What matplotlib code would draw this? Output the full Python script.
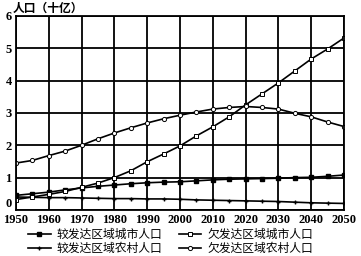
import matplotlib
matplotlib.use("Agg")
from matplotlib import pyplot as plt
import numpy as np

years = np.arange(1950, 2051, 5)

# population, billions
more_dev_urban = [0.45, 0.50, 0.55, 0.62, 0.68, 0.73, 0.77, 0.81, 0.84, 0.86, 0.87,
                  0.90, 0.93, 0.95, 0.96, 0.97, 0.98, 1.00, 1.01, 1.04, 1.08]
more_dev_rural = [0.40, 0.39, 0.38, 0.38, 0.37, 0.36, 0.35, 0.35, 0.34, 0.34, 0.33,
                  0.31, 0.30, 0.29, 0.28, 0.27, 0.26, 0.24, 0.22, 0.21, 0.20]
less_dev_urban = [0.32, 0.40, 0.48, 0.57, 0.70, 0.83, 1.00, 1.21, 1.49, 1.73, 1.98,
                  2.29, 2.57, 2.88, 3.25, 3.59, 3.93, 4.30, 4.67, 4.98, 5.32]
less_dev_rural = [1.45, 1.53, 1.68, 1.82, 2.00, 2.20, 2.38, 2.54, 2.69, 2.82, 2.93,
                  3.03, 3.12, 3.17, 3.20, 3.17, 3.12, 2.99, 2.88, 2.72, 2.58]

labels = ["较发达区域城市人口", "较发达区域农村人口", "欠发达区域城市人口", "欠发达区域农村人口"]
xticks = list(range(1950, 2051, 10))
yticks = list(range(0, 7))

plt.rcParams['font.family'] = ['Noto Sans CJK SC', 'DejaVu Sans']

fig = plt.figure(figsize=(3.61, 2.56), dpi=100)
ax = fig.add_axes([0.044, 0.18, 0.909, 0.7575])

lw = 1.2
ax.plot(years, more_dev_urban, color='k', lw=lw, marker='s', ms=2.5, mfc='k', label=labels[0])
ax.plot(years, more_dev_rural, color='k', lw=lw, marker='+', ms=3, mew=1, label=labels[1])
ax.plot(years, less_dev_urban, color='k', lw=lw, marker='s', ms=3, mfc='white', mew=0.7, label=labels[2])
ax.plot(years, less_dev_rural, color='k', lw=lw, marker='o', ms=3, mfc='white', mew=0.7, label=labels[3])

ax.set_xlim(1950, 2050)
ax.set_ylim(0, 6)
ax.set_xticks(xticks)
ax.set_yticks(yticks)
ax.grid(True, color='k', lw=1.3)
ax.set_axisbelow(True)
for s in ax.spines.values():
    s.set_linewidth(1.3)
ax.tick_params(axis='y', length=0, pad=3)
ax.tick_params(axis='x', length=0, pad=3)
for t in ax.get_xticklabels() + ax.get_yticklabels():
    t.set_fontfamily('Liberation Serif')
    t.set_fontsize(9)
    t.set_fontweight('bold')
# lift the 0 label a little so it clears 1950
ax.get_yticklabels()[0].set_va('bottom')

fig.text(0.035, 0.968, "人口（十亿）", fontsize=8.5, fontweight='bold', va='center', ha='left')

fig.legend(loc='lower left', bbox_to_anchor=(0.075, 0.0), ncol=2, frameon=False,
           fontsize=8.5, handlelength=1.9, handletextpad=0.5, columnspacing=1.4,
           labelspacing=0.05, borderaxespad=0.0, borderpad=0.1)

fig.savefig("out.png", dpi=100)
